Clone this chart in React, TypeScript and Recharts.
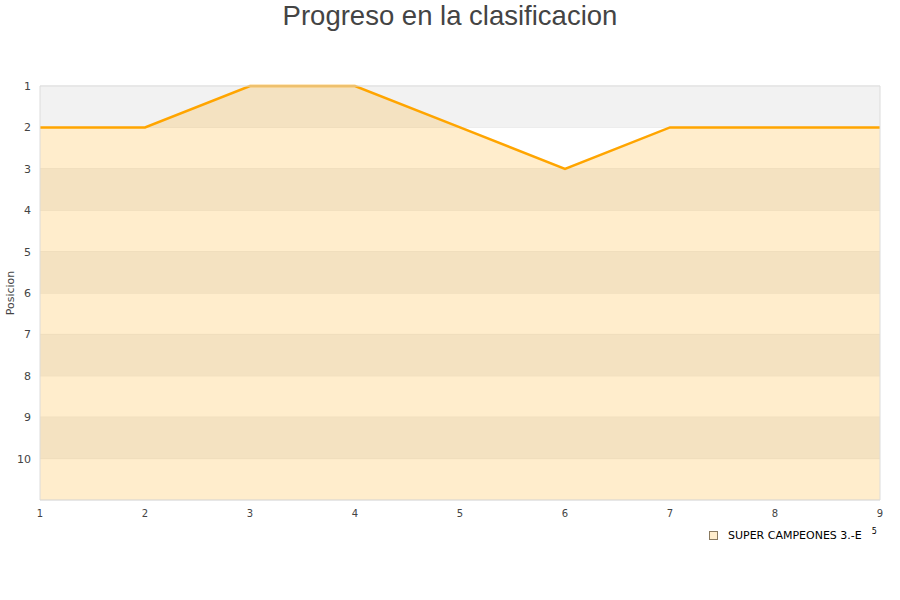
import React from 'react';
import {
  ComposedChart,
  Area,
  XAxis,
  YAxis,
  CartesianGrid,
  ReferenceArea,
} from 'recharts';

const jornadas = [1, 2, 3, 4, 5, 6, 7, 8, 9];
const posiciones = [2, 2, 1, 1, 2, 3, 2, 2, 2];
const yTicks = [1, 2, 3, 4, 5, 6, 7, 8, 9, 10];
// grey bands start at these positions (1-2, 3-4, ...)
const greyBands = [1, 3, 5, 7, 9];

const TEAM = 'SUPER CAMPEONES 3.-E';
const FONT = '"DejaVu Sans", Verdana, sans-serif';

const data = jornadas.map((j, i) => ({ jornada: j, pos: posiciones[i] }));

export default function App() {
  return (
    <div style={{ position: 'absolute', left: 0, top: 0, width: 900, height: 600, background: '#fff' }}>
      <div
        style={{
          position: 'absolute',
          top: 0,
          left: 0,
          width: 900,
          textAlign: 'center',
          fontFamily: '"Liberation Sans", Arial, sans-serif',
          fontSize: 27.5,
          color: '#444',
          lineHeight: '32px',
        }}
      >
        Progreso en la clasificacion
      </div>
      <ComposedChart
        width={900}
        height={600}
        data={data}
        margin={{ top: 86, right: 20, left: 0, bottom: 70 }}
      >
        {greyBands.map((b) => (
          <ReferenceArea
            key={b}
            y1={b}
            y2={b + 1}
            fill="#f2f2f2"
            fillOpacity={1}
            stroke="none"
          />
        ))}
        <CartesianGrid vertical={false} stroke="#e6e6e6" />
        <XAxis
          dataKey="jornada"
          type="number"
          domain={[1, 9]}
          ticks={jornadas}
          axisLine={false}
          tickLine={false}
          height={30}
          tickMargin={4}
          tick={{ fill: '#444', fontSize: 10, fontFamily: FONT }}
        />
        <YAxis
          type="number"
          reversed
          domain={[1, 11]}
          ticks={yTicks}
          interval={0}
          axisLine={false}
          tickLine={false}
          width={40}
          tickMargin={3}
          tick={{ fill: '#444', fontSize: 11, fontFamily: FONT }}
          label={{
            value: 'Posicion',
            angle: -90,
            position: 'insideLeft',
            offset: 10,
            style: { fill: '#444', fontSize: 11, fontFamily: FONT, textAnchor: 'middle' },
          }}
        />
        <Area
          type="linear"
          dataKey="pos"
          baseValue={11}
          stroke="#ffa500"
          strokeWidth={2.5}
          fill="#ffa500"
          fillOpacity={0.2}
          dot={false}
          activeDot={false}
          isAnimationActive={false}
        />
        <ReferenceArea
          x1={1}
          x2={9}
          y1={1}
          y2={11}
          fill="none"
          stroke="#dcdcdc"
          strokeWidth={1}
        />
      </ComposedChart>
      <div
        style={{
          position: 'absolute',
          left: 709,
          top: 529,
          display: 'flex',
          alignItems: 'center',
          fontFamily: FONT,
          fontSize: 11,
          color: '#000',
        }}
      >
        <span
          style={{
            display: 'inline-block',
            width: 7,
            height: 7,
            background: '#ffedcc',
            border: '1px solid #8a7a60',
            marginRight: 10,
          }}
        />
        <span>{TEAM}</span>
        <span style={{ fontSize: 8, marginLeft: 10, position: 'relative', top: -4 }}>5</span>
      </div>
    </div>
  );
}
